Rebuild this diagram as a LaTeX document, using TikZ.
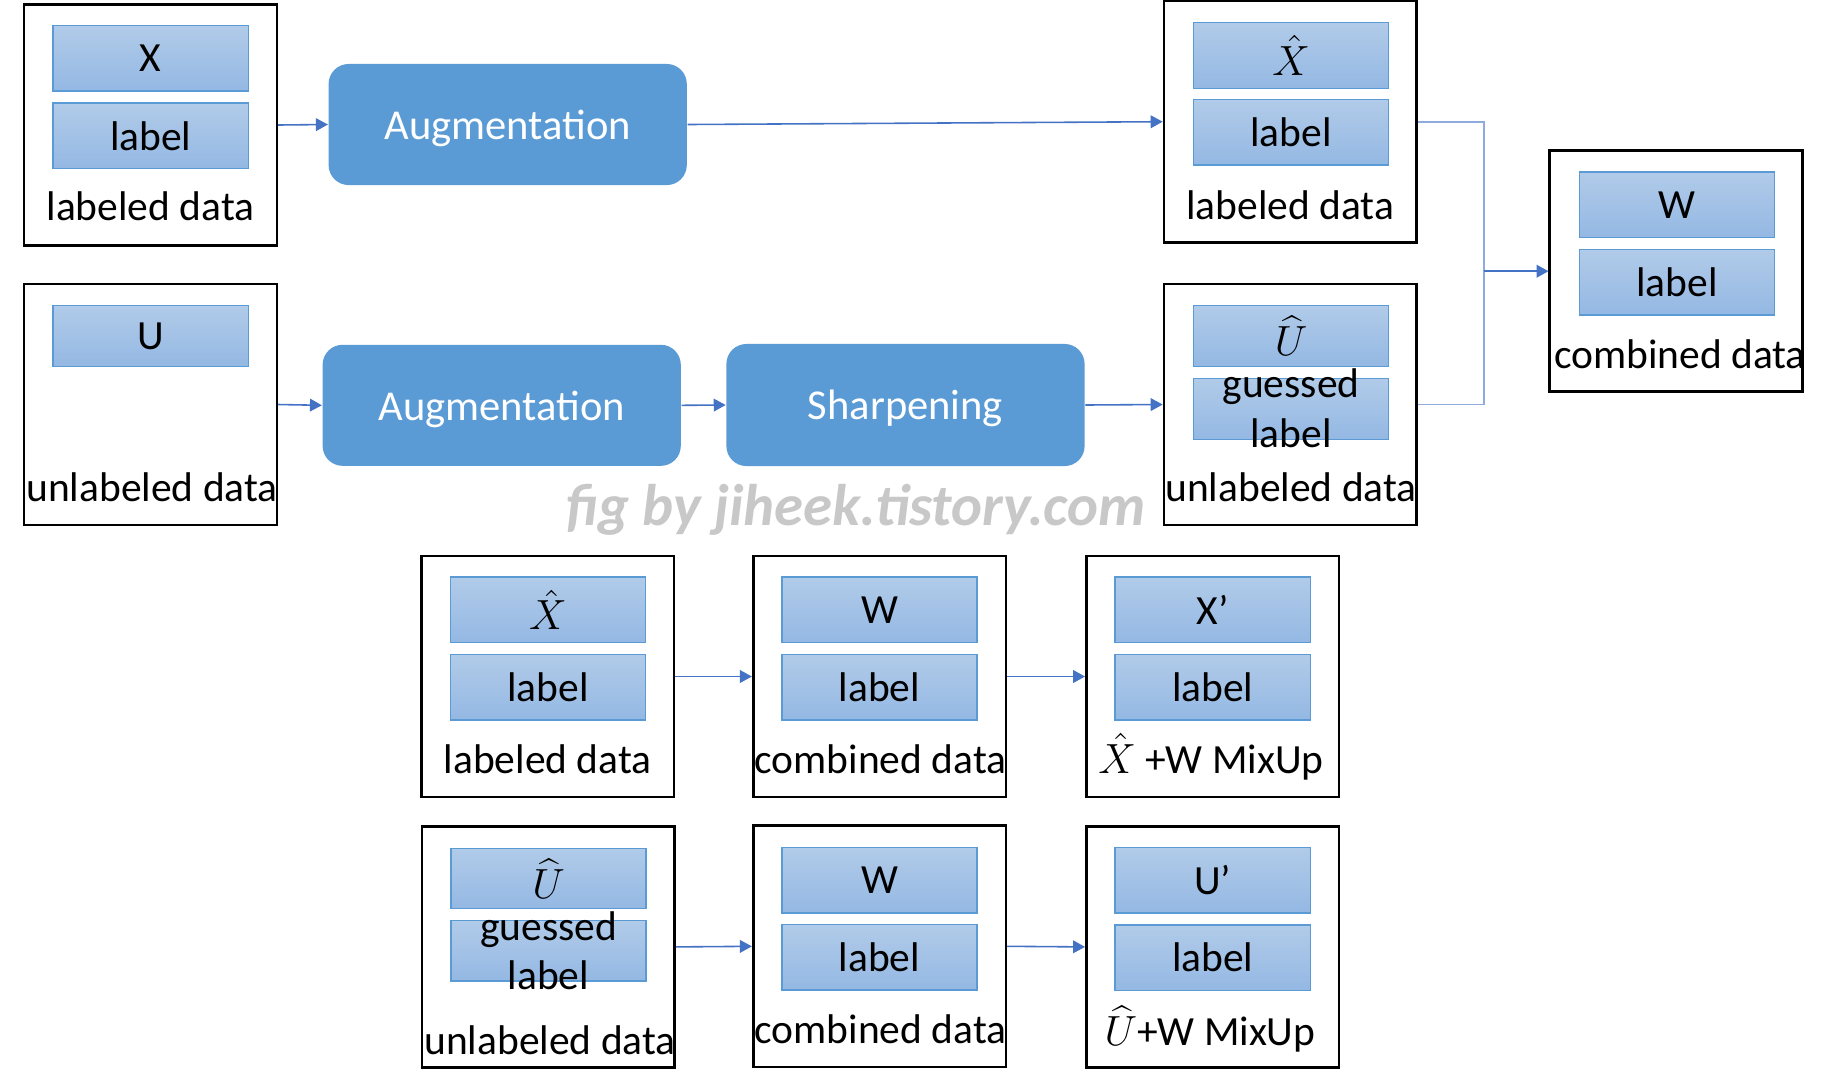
\documentclass[tikz,border=0pt]{standalone}
\usepackage{fontspec}
\setmainfont{Carlito}
\usetikzlibrary{arrows.meta}
\definecolor{procc}{HTML}{5B9BD5}
\definecolor{gtop}{HTML}{B1CBE9}
\definecolor{gbot}{HTML}{94B8E3}
\definecolor{bordc}{HTML}{5B9BD5}
\definecolor{arrc}{HTML}{4472C4}
\definecolor{connc}{HTML}{8FAADC}
\definecolor{wmc}{RGB}{200,200,200}
\begin{document}
\begin{tikzpicture}[x=0.01cm,y=-0.01cm,
  every node/.style={font=\fontsize{11.8}{14}\selectfont},
  databox/.style={draw=black,line width=0.75pt,minimum width=2.525cm,minimum height=2.41cm,inner sep=0pt},
  inbox/.style={draw=bordc,line width=0.4pt,top color=gtop,bottom color=gbot,minimum width=1.95cm,minimum height=0.655cm,inner sep=0pt},
  proc/.style={fill=procc,rounded corners=0.2cm,minimum width=3.58cm,minimum height=1.21cm,text=white,inner sep=0pt,text depth=0pt,font=\fontsize{12.1}{14}\selectfont},
  lbl/.style={inner sep=0pt,anchor=base},
  arr/.style={draw=arrc,line width=0.45pt,-{Triangle[length=3.4pt,width=3.6pt]}},
  conn/.style={draw=connc,line width=0.45pt},
]
\useasboundingbox[fill=white] (0,0) rectangle (1833,1090);

% top-left inputs
\node[databox] (tl1) at (150.5,125) {};
\node[inbox] (tl1a) at (150.7,58.4) {X};
\node[inbox] (tl1b) at (150.7,135.9) {label};
\node[lbl] (tl1t) at (150.5,220) {labeled data};

\node[databox] (tl2) at (150.5,404.5) {};
\node[inbox,minimum height=0.61cm] (tl2a) at (150.7,336) {U};
\node[lbl] (tl2t) at (152,501) {unlabeled data};

% processes
\node[proc] (aug1) at (507.7,124.5) {Augmentation};
\node[proc] (aug2) at (501.7,405.3) {Augmentation};
\node[proc,minimum height=1.22cm] (sharp) at (905.5,405) {Sharpening};

% top-right outputs
\node[databox] (tr1) at (1290.3,121.7) {};
\node[inbox] (tr1a) at (1291.1,55.5) {$\hat{X}$};
\node[inbox] (tr1b) at (1291.1,132.3) {label};
\node[lbl] (tr1t) at (1290.3,219) {labeled data};

\node[databox] (tr2) at (1290.3,404.5) {};
\node[inbox,minimum height=0.61cm] (tr2a) at (1291.1,335.9) {$\widehat{U}$};
\node[inbox,minimum height=0.61cm] (tr2b) at (1291.1,408.9) {};
\node[lbl] (tr2g) at (1291,397) {guessed};
\node[lbl] (tr2l) at (1291,447.5) {label};
\node[lbl] (tr2t) at (1291,501) {unlabeled data};

% combined
\node[databox] (cb) at (1676.1,271.2) {};
\node[inbox] (cba) at (1677,204.8) {W};
\node[inbox] (cbb) at (1677,282.2) {label};
\node[lbl] (cbt) at (1680,368) {combined data};

% watermark
\node[text=wmc,font=\fontsize{16.7}{19}\selectfont\bfseries\itshape] (wm) at (856,510) {fig by jiheek.tistory.com};

% bottom row 1
\node[databox] (bl1) at (547.6,676.5) {};
\node[inbox] (bl1a) at (547.9,609.8) {$\hat{X}$};
\node[inbox] (bl1b) at (547.9,687.3) {label};
\node[lbl] (bl1t) at (547.6,773) {labeled data};

\node[databox] (bm1) at (879.5,676.5) {};
\node[inbox] (bm1a) at (879.5,609.8) {W};
\node[inbox] (bm1b) at (879.5,687.3) {label};
\node[lbl] (bm1t) at (880.5,773) {combined data};

\node[databox] (br1) at (1212.7,676.5) {};
\node[inbox] (br1a) at (1212.7,609.8) {X’};
\node[inbox] (br1b) at (1212.7,687.3) {label};
\node[lbl] (br1t) at (1211,773) {$\hat{X}$ +W MixUp};

% bottom row 2
\node[databox] (bl2) at (548.2,946.9) {};
\node[inbox,minimum height=0.6cm] (bl2a) at (548.5,878.5) {$\widehat{U}$};
\node[inbox,minimum height=0.605cm] (bl2b) at (548.5,950.9) {};
\node[lbl] (bl2g) at (548.5,940) {guessed};
\node[lbl] (bl2l) at (548.5,989) {label};
\node[lbl] (bl2t) at (550,1054) {unlabeled data};

\node[databox] (bm2) at (879.5,946.3) {};
\node[inbox] (bm2a) at (879.5,880.3) {W};
\node[inbox] (bm2b) at (879.5,957.4) {label};
\node[lbl] (bm2t) at (880.5,1043) {combined data};

\node[databox] (br2) at (1212.7,946.9) {};
\node[inbox] (br2a) at (1212.7,880.3) {U’};
\node[inbox] (br2b) at (1212.7,957.7) {label};
\node[lbl] (br2t) at (1210,1045) {$\widehat{U}$+W MixUp};

% connectors
\draw[arr] (tl1.east) -- (aug1.west);
\draw[arr] (aug1.east) -- (tr1.west);
\draw[arr] (tl2.east) -- (aug2.west);
\draw[arr] (aug2.east) -- (sharp.west);
\draw[arr] (sharp.east) -- (tr2.west);
\coordinate (j) at (1484,271.2);
\draw[conn] (tr1.east) -| (j);
\draw[conn] (tr2.east) -| (j);
\draw[arr,line width=0.6pt] (j) -- (cb.west);
\draw[arr] (bl1.east) -- (bm1.west);
\draw[arr] (bm1.east) -- (br1.west);
\draw[arr] (bl2.east) -- (bm2.west);
\draw[arr] (bm2.east) -- (br2.west);
\end{tikzpicture}
\end{document}
